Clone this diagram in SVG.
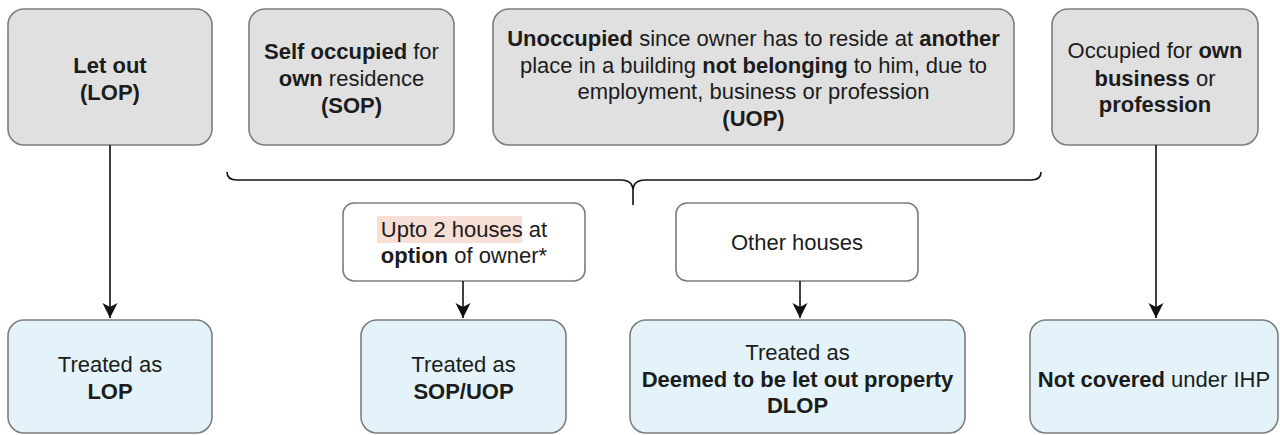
<svg xmlns="http://www.w3.org/2000/svg" width="1280" height="435" viewBox="0 0 1280 435">
<defs>
<marker id="arr" markerWidth="16" markerHeight="16" refX="15" refY="7.5" orient="auto" markerUnits="userSpaceOnUse">
<path d="M0,0 L15,7.5 L0,15 L4,7.5 Z" fill="#111"/>
</marker>
<style>
.top{fill:#e0e0e0;stroke:#7d7d7d;stroke-width:1.6}
.mid{fill:#ffffff;stroke:#7d7d7d;stroke-width:1.6}
.bot{fill:#e3f3f9;stroke:#7d7d7d;stroke-width:1.6}
text{font-family:"Liberation Sans",Arial,sans-serif;font-size:22px;fill:#1c1c1c;text-anchor:middle}
.b{font-weight:bold}
.edge{stroke:#111;stroke-width:1.6;fill:none}
</style>
</defs>
<rect width="1280" height="435" fill="#ffffff"/>

<g id="n-letout">
<rect class="top" x="8" y="9" width="204" height="136" rx="16"/>
<text x="110" y="73" class="b">Let out</text>
<text x="110" y="100" class="b">(LOP)</text>
</g>

<g id="n-sop">
<rect class="top" x="249" y="9" width="205" height="136" rx="16"/>
<text x="351.5" y="59"><tspan class="b">Self occupied</tspan> for</text>
<text x="351.5" y="86"><tspan class="b">own</tspan> residence</text>
<text x="351.5" y="113" class="b">(SOP)</text>
</g>

<g id="n-uop">
<rect class="top" x="493" y="9" width="521" height="136" rx="16"/>
<text x="753.5" y="46"><tspan class="b">Unoccupied</tspan> since owner has to reside at <tspan class="b">another</tspan></text>
<text x="753.5" y="73">place in a building <tspan class="b">not belonging</tspan> to him, due to</text>
<text x="753.5" y="99">employment, business or profession</text>
<text x="753.5" y="126" class="b">(UOP)</text>
</g>

<g id="n-business">
<rect class="top" x="1052" y="9" width="206" height="136" rx="16"/>
<text x="1155" y="58">Occupied for <tspan class="b">own</tspan></text>
<text x="1155" y="86"><tspan class="b">business</tspan> or</text>
<text x="1155" y="112" class="b">profession</text>
</g>

<g id="n-upto">
<rect class="mid" x="343" y="203" width="242" height="78" rx="11"/>
<rect x="377" y="216" width="145" height="27" fill="#f7dfd6"/>
<text x="464" y="237">Upto 2 houses at</text>
<text x="464" y="263"><tspan class="b">option</tspan> of owner*</text>
</g>

<g id="n-other">
<rect class="mid" x="676" y="203" width="242" height="78" rx="11"/>
<text x="797" y="250">Other houses</text>
</g>

<g id="n-lop">
<rect class="bot" x="8" y="320" width="204" height="113" rx="16"/>
<text x="110" y="372">Treated as</text>
<text x="110" y="399" class="b">LOP</text>
</g>

<g id="n-sopuop">
<rect class="bot" x="361" y="320" width="205" height="113" rx="16"/>
<text x="463.5" y="372">Treated as</text>
<text x="463.5" y="399" class="b">SOP/UOP</text>
</g>

<g id="n-dlop">
<rect class="bot" x="630" y="320" width="335" height="113" rx="16"/>
<text x="797.5" y="360">Treated as</text>
<text x="797.5" y="387" class="b">Deemed to be let out property</text>
<text x="797.5" y="413" class="b">DLOP</text>
</g>

<g id="n-notcovered">
<rect class="bot" x="1030" y="320" width="248" height="113" rx="16"/>
<text x="1154" y="387"><tspan class="b">Not covered</tspan> under IHP</text>
</g>

<g id="connectors">
<path class="edge" d="M227,172 Q227,180 237,180 L621,180 Q633,180 633,191 L633,205 M1041,172 Q1041,180 1031,180 L645,180 Q633,180 633,191"/>
<line class="edge" x1="110" y1="145" x2="110" y2="318" marker-end="url(#arr)"/>
<line class="edge" x1="463" y1="281" x2="463" y2="318" marker-end="url(#arr)"/>
<line class="edge" x1="800" y1="281" x2="800" y2="318" marker-end="url(#arr)"/>
<line class="edge" x1="1156" y1="145" x2="1156" y2="318" marker-end="url(#arr)"/>
</g>
</svg>
